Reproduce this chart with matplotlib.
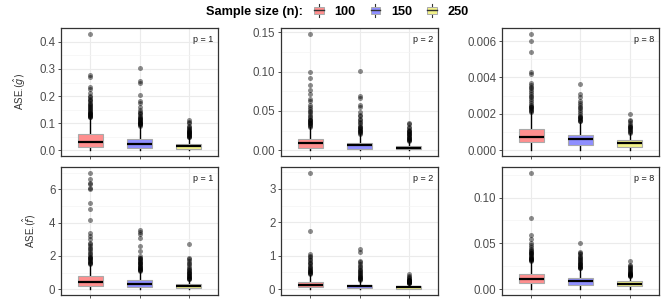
import matplotlib
matplotlib.use("Agg")
import matplotlib.pyplot as plt
from matplotlib.patches import Rectangle
from matplotlib.lines import Line2D
from matplotlib.legend_handler import HandlerBase
from matplotlib.ticker import MultipleLocator, FormatStrFormatter

plt.rcParams['font.family'] = ['Liberation Sans', 'DejaVu Sans']

sizes = ['100', '150', '250']
fills = ['#FF8F8F', '#8F8FFF', '#F2F28A']

# (whisker low, q1, median, q3, whisker high) per sample size
g_p1_stats = [(0.0, 0.0125, 0.029, 0.059, 0.121),
              (0.0, 0.009, 0.0225, 0.0425, 0.09),
              (0.0, 0.006, 0.015, 0.0225, 0.0475)]
g_p1_out = [[0.122, 0.124, 0.126, 0.128, 0.13, 0.132, 0.134, 0.136, 0.139, 0.142, 0.145, 0.148,
             0.151, 0.155, 0.158, 0.162, 0.166, 0.17, 0.175, 0.18, 0.185, 0.19, 0.196, 0.2,
             0.21, 0.225, 0.235, 0.272, 0.278, 0.43],
            [0.091, 0.093, 0.095, 0.097, 0.099, 0.101, 0.103, 0.105, 0.108, 0.111, 0.114, 0.117,
             0.12, 0.124, 0.128, 0.132, 0.137, 0.142, 0.15, 0.16, 0.175, 0.18, 0.205, 0.25,
             0.256, 0.305],
            [0.048, 0.05, 0.052, 0.054, 0.056, 0.058, 0.06, 0.062, 0.064, 0.066, 0.068, 0.07,
             0.072, 0.075, 0.078, 0.081, 0.085, 0.09, 0.1, 0.105, 0.11]]

g_p2_stats = [(0.0, 0.0034, 0.0085, 0.0148, 0.029),
              (0.0, 0.002, 0.006, 0.0097, 0.021),
              (0.0, 0.0013, 0.003, 0.0055, 0.012)]
g_p2_out = [[0.03, 0.031, 0.032, 0.033, 0.034, 0.035, 0.036, 0.037, 0.038, 0.039, 0.04, 0.042,
             0.044, 0.046, 0.048, 0.05, 0.052, 0.055, 0.058, 0.062, 0.065, 0.071, 0.076, 0.083,
             0.092, 0.1, 0.148],
            [0.021, 0.022, 0.023, 0.024, 0.025, 0.026, 0.027, 0.028, 0.029, 0.03, 0.032, 0.034,
             0.036, 0.038, 0.04, 0.043, 0.045, 0.048, 0.055, 0.058, 0.067, 0.069, 0.101],
            [0.012, 0.013, 0.0135, 0.014, 0.015, 0.016, 0.017, 0.018, 0.019, 0.02, 0.021, 0.022,
             0.023, 0.024, 0.025, 0.026, 0.028, 0.03, 0.033, 0.035]]

g_p8_stats = [(0.0, 0.00044, 0.00072, 0.00114, 0.0021),
              (0.0, 0.00031, 0.0006, 0.00086, 0.00156),
              (0.0, 0.00018, 0.00038, 0.00057, 0.00092)]
g_p8_out = [[0.0021, 0.00215, 0.0022, 0.00225, 0.0023, 0.00235, 0.0024, 0.00245, 0.0025, 0.0026,
             0.0027, 0.0028, 0.0029, 0.003, 0.0031, 0.0032, 0.0033, 0.0034, 0.0035, 0.0036,
             0.0037, 0.0042, 0.0043, 0.0054, 0.006, 0.0064],
            [0.00158, 0.0016, 0.00165, 0.0017, 0.00175, 0.0018, 0.00185, 0.0019, 0.002, 0.0021,
             0.0022, 0.0023, 0.0024, 0.0025, 0.0026, 0.0027, 0.0029, 0.0031, 0.00365],
            [0.00095, 0.001, 0.00105, 0.0011, 0.00115, 0.0012, 0.00125, 0.0013, 0.00135, 0.0014,
             0.0015, 0.0016, 0.00165, 0.002]]

f_p1_stats = [(0.0, 0.2, 0.46, 0.8, 1.46),
              (0.0, 0.16, 0.32, 0.56, 1.06),
              (0.0, 0.08, 0.2, 0.32, 0.56)]
f_p1_out = [[1.5, 1.55, 1.6, 1.65, 1.7, 1.75, 1.8, 1.85, 1.9, 1.95, 2.0, 2.1, 2.2, 2.3, 2.4, 2.5,
             2.6, 2.7, 2.8, 3.0, 3.2, 3.4, 4.15, 4.8, 5.2, 6.0, 6.1, 6.3, 6.4, 6.6, 7.0],
            [1.1, 1.13, 1.16, 1.2, 1.24, 1.28, 1.32, 1.36, 1.4, 1.45, 1.5, 1.55, 1.6, 1.65, 1.7,
             1.75, 1.8, 1.85, 1.9, 2.0, 2.3, 2.6, 3.1, 3.3, 3.45, 3.55],
            [0.6, 0.63, 0.66, 0.7, 0.74, 0.78, 0.82, 0.86, 0.9, 0.95, 1.0, 1.05, 1.1, 1.15, 1.2,
             1.3, 1.4, 1.5, 1.6, 1.7, 1.8, 1.9, 2.7]]

f_p2_stats = [(0.0, 0.06, 0.13, 0.21, 0.42),
              (0.0, 0.04, 0.09, 0.14, 0.26),
              (0.0, 0.02, 0.06, 0.09, 0.16)]
f_p2_out = [[0.45, 0.47, 0.49, 0.51, 0.53, 0.55, 0.57, 0.6, 0.63, 0.66, 0.7, 0.74, 0.78, 0.82,
             0.86, 0.9, 0.95, 1.0, 1.05, 1.75, 3.48],
            [0.27, 0.29, 0.31, 0.33, 0.35, 0.37, 0.39, 0.41, 0.44, 0.47, 0.5, 0.53, 0.56, 0.6,
             0.65, 0.7, 0.75, 0.8, 0.85, 1.1, 1.2],
            [0.17, 0.18, 0.19, 0.2, 0.21, 0.22, 0.23, 0.24, 0.25, 0.26, 0.27, 0.28, 0.3, 0.32,
             0.35, 0.4, 0.45]]

f_p8_stats = [(0.0, 0.0065, 0.011, 0.0167, 0.031),
              (0.0, 0.0047, 0.0084, 0.0127, 0.023),
              (0.0, 0.003, 0.0058, 0.0084, 0.014)]
f_p8_out = [[0.031, 0.0315, 0.032, 0.0325, 0.033, 0.0335, 0.034, 0.035, 0.036, 0.037, 0.038,
             0.039, 0.04, 0.041, 0.042, 0.043, 0.044, 0.046, 0.048, 0.05, 0.055, 0.059, 0.078,
             0.127],
            [0.023, 0.0235, 0.024, 0.0245, 0.025, 0.026, 0.027, 0.028, 0.029, 0.03, 0.031, 0.032,
             0.033, 0.034, 0.035, 0.036, 0.038, 0.04, 0.041, 0.05],
            [0.014, 0.0145, 0.015, 0.0155, 0.016, 0.0165, 0.017, 0.0175, 0.018, 0.019, 0.02,
             0.021, 0.022, 0.023, 0.024, 0.025, 0.026, 0.031]]

panels = [
    (g_p1_stats, g_p1_out, 'p = 1', 0.1, '%.1f'),
    (g_p2_stats, g_p2_out, 'p = 2', 0.05, '%.2f'),
    (g_p8_stats, g_p8_out, 'p = 8', 0.002, '%.3f'),
    (f_p1_stats, f_p1_out, 'p = 1', 2, '%d'),
    (f_p2_stats, f_p2_out, 'p = 2', 1, '%d'),
    (f_p8_stats, f_p8_out, 'p = 8', 0.05, '%.2f'),
]
ylabels = [r'ASE$_{\cdot}(\hat{g})$', r'ASE$_{\cdot}(\hat{f})$']

fig = plt.figure(figsize=(6.64, 3.02), dpi=100)
W, H = 664, 302
lefts = [61, 281, 502]
tops = [28, 167]
pw, ph = 157, 128

for k, (stats, outs, ptxt, step, fmt) in enumerate(panels):
    r, c = divmod(k, 3)
    ax = fig.add_axes([lefts[c] / W, (H - tops[r] - ph) / H, pw / W, ph / H])
    bxp = []
    for (lo, q1, med, q3, hi), fl in zip(stats, outs):
        bxp.append(dict(whislo=lo, q1=q1, med=med, q3=q3, whishi=hi, fliers=fl))
    res = ax.bxp(bxp, positions=[1, 2, 3], widths=0.5, patch_artist=True,
                 showcaps=False,
                 boxprops=dict(edgecolor='#AAAAAA', linewidth=0.8),
                 whiskerprops=dict(color='black', linewidth=1.0),
                 medianprops=dict(color='black', linewidth=1.6),
                 flierprops=dict(marker='o', markersize=3.6, markerfacecolor='black',
                                 markeredgecolor='none', alpha=0.45))
    for patch, col in zip(res['boxes'], fills):
        patch.set_facecolor(col)
        patch.set_zorder(3)
    for m in res['medians']:
        m.set_zorder(4)
    for w in res['whiskers']:
        w.set_zorder(2)
    top = max(max(fl) for fl in outs)
    pad = 0.05 * top
    ax.set_ylim(-pad, top + pad)
    ax.set_xlim(0.4, 3.6)
    ax.yaxis.set_major_locator(MultipleLocator(step))
    ax.yaxis.set_minor_locator(MultipleLocator(step / 2))
    ax.yaxis.set_major_formatter(FormatStrFormatter(fmt))
    ax.set_xticks([1, 2, 3])
    ax.set_xticklabels([])
    ax.grid(True, which='major', color='#EBEBEB', linewidth=0.8, zorder=0)
    ax.grid(True, which='minor', axis='y', color='#F4F4F4', linewidth=0.5, zorder=0)
    ax.set_axisbelow(True)
    ax.tick_params(axis='both', which='major', length=2.5, width=0.6, color='#333333',
                   labelsize=8.3, labelcolor='#4D4D4D', pad=1.5)
    ax.tick_params(axis='y', which='minor', length=0)
    for s in ax.spines.values():
        s.set_color('#333333')
        s.set_linewidth(0.9)
    ax.text(0.97, 0.91, ptxt, transform=ax.transAxes, ha='right', va='center',
            fontsize=6.5, color='#1A1A1A')
    if c == 0:
        ax.set_ylabel(ylabels[r], fontsize=7, color='#333333', labelpad=8)


class BoxKey(HandlerBase):
    def create_artists(self, legend, orig, xd, yd, width, height, fontsize, trans):
        cx = xd + width / 2
        bw = width * 0.8
        bh = height * 0.75
        vline = Line2D([cx, cx], [yd - height * 0.2, yd + height * 1.2], color='#333333',
                       linewidth=0.8, transform=trans)
        box = Rectangle((cx - bw / 2, yd + height / 2 - bh / 2), bw, bh,
                        facecolor=orig.get_facecolor(), edgecolor='#AAAAAA', linewidth=0.7,
                        transform=trans)
        med = Line2D([cx - bw / 2, cx + bw / 2], [yd + height / 2] * 2, color='#333333',
                     linewidth=1.0, transform=trans)
        return [vline, box, med]


handles = [Rectangle((0, 0), 1, 1, facecolor=col) for col in fills]
fig.text(303 / W, 1 - 12 / H, 'Sample size (n):', ha='right', va='center',
         fontsize=9.2, fontweight='bold')
fig.legend(handles, sizes, loc='center left', bbox_to_anchor=(313 / W, 1 - 12 / H),
           ncol=3, frameon=False, handler_map={Rectangle: BoxKey()},
           handlelength=0.95, handleheight=0.75, handletextpad=0.75, columnspacing=1.05,
           borderpad=0, borderaxespad=0, prop=dict(size=9.2, weight='bold'))

fig.savefig('out.png', dpi=100)
